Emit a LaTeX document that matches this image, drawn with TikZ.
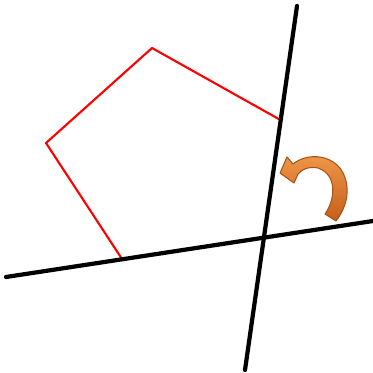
\documentclass[tikz,border=0pt]{standalone}
\usetikzlibrary{shadings}
\definecolor{arrowlight}{HTML}{F39A4A}
\definecolor{arrowdark}{HTML}{C45F1C}
\definecolor{arrowedge}{HTML}{A9521A}
\begin{document}
\begin{tikzpicture}[x=.01cm,y=-.01cm, line join=round, line cap=round]
	\useasboundingbox (0,0) rectangle (373,373);
	\path
	(152,48) coordinate (A)
	(280.5,120) coordinate (B)
	(264,238) coordinate (C)
	(122,259) coordinate (D)
	(46,143) coordinate (E);
	\draw[red, line width=.6pt] (A)--(B)--(C)--(D)--(E)--cycle;
	\draw[line width=1.2pt] (6,277)--(373,221);
	\draw[line width=1.2pt] (297,6)--(245,370);
	\draw[arrowedge, line width=.3pt, top color=arrowlight, bottom color=arrowdark]
	(293,164) .. controls (310,150) and (345,155) .. (347,188)
	.. controls (348,200) and (343,212) .. (336,221)
	-- (325,214)
	.. controls (335,200) and (338,175) .. (318,168)
	.. controls (308,166) and (301,170) .. (298,174)
	-- (294,183) -- (280,173) -- (287,157) -- cycle;
\end{tikzpicture}
\end{document}
